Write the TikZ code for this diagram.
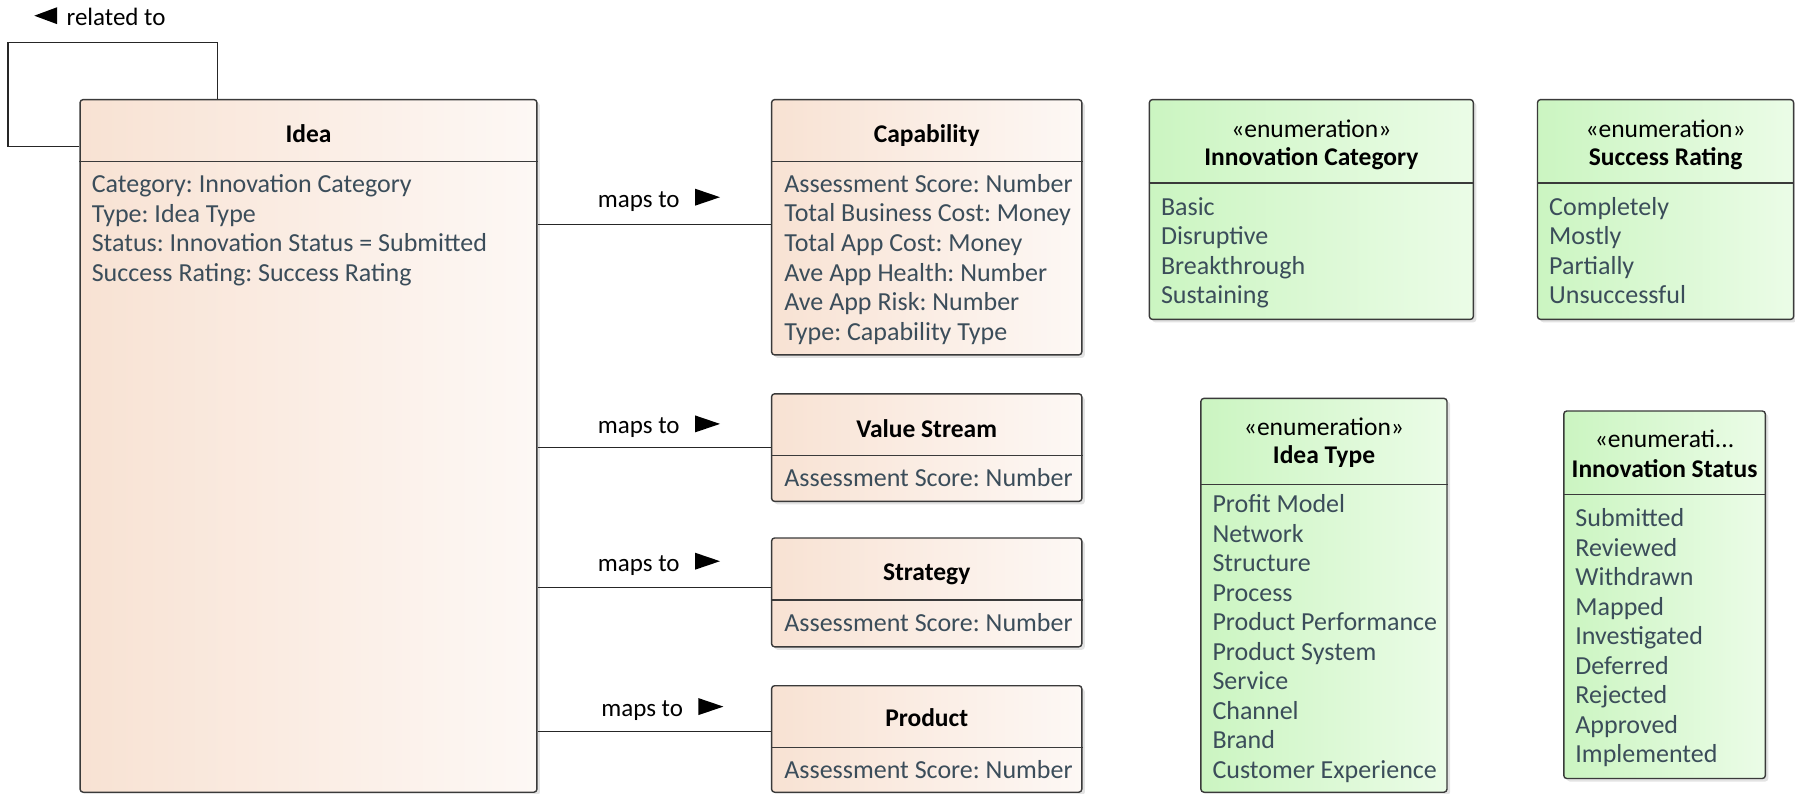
\documentclass[tikz,border=0pt]{standalone}
\usepackage{fontspec}
\setmainfont{Carlito}
\usetikzlibrary{fit,shadows}
\frenchspacing
\definecolor{peachL}{HTML}{F8E2D3}
\definecolor{peachR}{HTML}{FDF8F5}
\definecolor{greenL}{HTML}{CBF5C1}
\definecolor{greenR}{HTML}{EBFCE7}
\definecolor{attrcol}{HTML}{3B4D5A}
\definecolor{bordercol}{HTML}{3A3A3A}
\tikzset{
  classbox/.style={draw=bordercol, line width=1.4pt, rounded corners=3pt, inner sep=0pt,
    left color=peachL, right color=peachR,
    drop shadow={shadow xshift=3pt, shadow yshift=-3pt, opacity=0.22}},
  enumbox/.style={classbox, left color=greenL, right color=greenR},
  attrtext/.style={anchor=base west, inner sep=0pt, text=attrcol, font=\fontsize{26}{30}\selectfont\frenchspacing},
  titletext/.style={anchor=base, inner sep=0pt, font=\fontsize{25.5}{30}\selectfont\bfseries},
  stereo/.style={anchor=base, inner sep=0pt, font=\fontsize{25.5}{30}\selectfont},
  sepline/.style={draw=bordercol, line width=1.4pt},
  conn/.style={draw=black!85, line width=1.4pt},
  lbl/.style={anchor=base, inner sep=0pt, font=\fontsize{25}{30}\selectfont},
}
\begin{document}
\begin{tikzpicture}[x=1pt,y=-1pt]
\useasboundingbox (0,0) rectangle (1795,794);

% ---------- boxes ----------
\node[classbox, fit={(80.1,99.6) (536.9,792.2)}] (idea) {};
\node[classbox, fit={(771.6,99.6) (1081.8,354.9)}] (cap) {};
\node[classbox, fit={(771.6,393.8) (1081.8,501.4)}] (vs) {};
\node[classbox, fit={(771.6,538) (1081.8,646.8)}] (str) {};
\node[classbox, fit={(771.6,685.7) (1081.8,792.2)}] (prod) {};
\node[enumbox, fit={(1149.4,99.6) (1473.3,319.4)}] (icat) {};
\node[enumbox, fit={(1537.5,99.6) (1793.6,319.4)}] (srate) {};
\node[enumbox, fit={(1200.9,398.4) (1447,792.2)}] (itype) {};
\node[enumbox, fit={(1563.8,411) (1765.3,778.5)}] (istat) {};

% ---------- separators ----------
\coordinate (sA) at (0,161.4);
\draw[sepline] (idea.west |- sA) -- (idea.east |- sA);
\draw[sepline] (cap.west |- sA) -- (cap.east |- sA);
\coordinate (sB) at (0,455.6);
\draw[sepline] (vs.west |- sB) -- (vs.east |- sB);
\coordinate (sC) at (0,599.8);
\draw[sepline] (str.west |- sC) -- (str.east |- sC);
\coordinate (sD) at (0,747.5);
\draw[sepline] (prod.west |- sD) -- (prod.east |- sD);
\coordinate (sE) at (0,183.2);
\draw[sepline] (icat.west |- sE) -- (icat.east |- sE);
\draw[sepline] (srate.west |- sE) -- (srate.east |- sE);
\coordinate (sF) at (0,484.3);
\draw[sepline] (itype.west |- sF) -- (itype.east |- sF);
\coordinate (sG) at (0,494.6);
\draw[sepline] (istat.west |- sG) -- (istat.east |- sG);

% ---------- titles ----------
\node[titletext] (ideaT) at (308.5,143) {Idea};
\node[titletext] (capT) at (926.7,143) {Capability};
\node[titletext] (vsT) at (926.7,437.3) {Value Stream};
\node[titletext] (strT) at (926.7,580.4) {Strategy};
\node[titletext] (prodT) at (926.7,726.9) {Product};
\node[stereo] (icatS) at (1311.3,137.4) {«enumeration»};
\node[titletext] (icatT) at (1311.3,166) {Innovation Category};
\node[stereo] (srateS) at (1665.6,137.4) {«enumeration»};
\node[titletext] (srateT) at (1665.6,166) {Success Rating};
\node[stereo] (itypeS) at (1324,435) {«enumeration»};
\node[titletext] (itypeT) at (1324,463.6) {Idea Type};
\node[stereo] (istatS) at (1664.5,447.6) {«enumerati...};
\node[titletext] (istatT) at (1664.5,477.4) {Innovation Status};

% ---------- attributes ----------
\foreach \t [count=\i from 0] in {Category: Innovation Category, Type: Idea Type, Status: Innovation Status = Submitted, Success Rating: Success Rating}
  \node[attrtext] (ideaA\i) at (91.6,{192.3+\i*29.77}) {\t};
\foreach \t [count=\i from 0] in {Assessment Score: Number, Total Business Cost: Money, Total App Cost: Money, Ave App Health: Number, Ave App Risk: Number, Type: Capability Type}
  \node[attrtext] (capA\i) at (784.2,{192.3+\i*29.6}) {\t};
\node[attrtext] (vsA) at (784.2,486.5) {Assessment Score: Number};
\node[attrtext] (strA) at (784.2,631.9) {Assessment Score: Number};
\node[attrtext] (prodA) at (784.2,778.4) {Assessment Score: Number};
\foreach \t [count=\i from 0] in {Basic, Disruptive, Breakthrough, Sustaining}
  \node[attrtext] (icatA\i) at (1160.8,{215.2+\i*29.4}) {\t};
\foreach \t [count=\i from 0] in {Completely, Mostly, Partially, Unsuccessful}
  \node[attrtext] (srateA\i) at (1549,{215.2+\i*29.4}) {\t};
\foreach \t [count=\i from 0] in {Profit Model, Network, Structure, Process, Product Performance, Product System, Service, Channel, Brand, Customer Experience}
  \node[attrtext] (itypeA\i) at (1212.3,{512.9+\i*29.5}) {\t};
\foreach \t [count=\i from 0] in {Submitted, Reviewed, Withdrawn, Mapped, Investigated, Deferred, Rejected, Approved, Implemented}
  \node[attrtext] (istatA\i) at (1575.2,{526.6+\i*29.5}) {\t};

% ---------- connectors ----------
\coordinate (m1) at (0,224.4);
\draw[conn] (idea.east |- m1) -- (cap.west |- m1);
\coordinate (m2) at (0,447.6);
\draw[conn] (idea.east |- m2) -- (vs.west |- m2);
\coordinate (m3) at (0,587.3);
\draw[conn] (idea.east |- m3) -- (str.west |- m3);
\coordinate (m4) at (0,731.5);
\draw[conn] (idea.east |- m4) -- (prod.west |- m4);

% self association
\coordinate (la) at (8,146.5);
\coordinate (lb) at (8,42.4);
\coordinate (lc) at (217.5,42.4);
\draw[conn] (idea.west |- la) -- (la) -- (lb) -- (lc) -- (idea.north -| lc);

% ---------- labels ----------
\node[lbl] (l1) at (638.8,207.2) {maps to};
\fill (695,188.7) -- (720,197.2) -- (695,205.7) -- cycle;
\node[lbl] (l2) at (638.8,433.9) {maps to};
\fill (695,415.4) -- (720,423.9) -- (695,432.4) -- cycle;
\node[lbl] (l3) at (638.8,571.2) {maps to};
\fill (695,552.7) -- (720,561.2) -- (695,569.7) -- cycle;
\node[lbl] (l4) at (642.2,716.6) {maps to};
\fill (698.4,698.1) -- (723.4,706.6) -- (698.4,715.1) -- cycle;
\node[lbl, anchor=base west] (rel) at (66.4,25.2) {related to};
\fill (57.2,7.2) -- (34.3,15.7) -- (57.2,24.2) -- cycle;
\end{tikzpicture}
\end{document}
